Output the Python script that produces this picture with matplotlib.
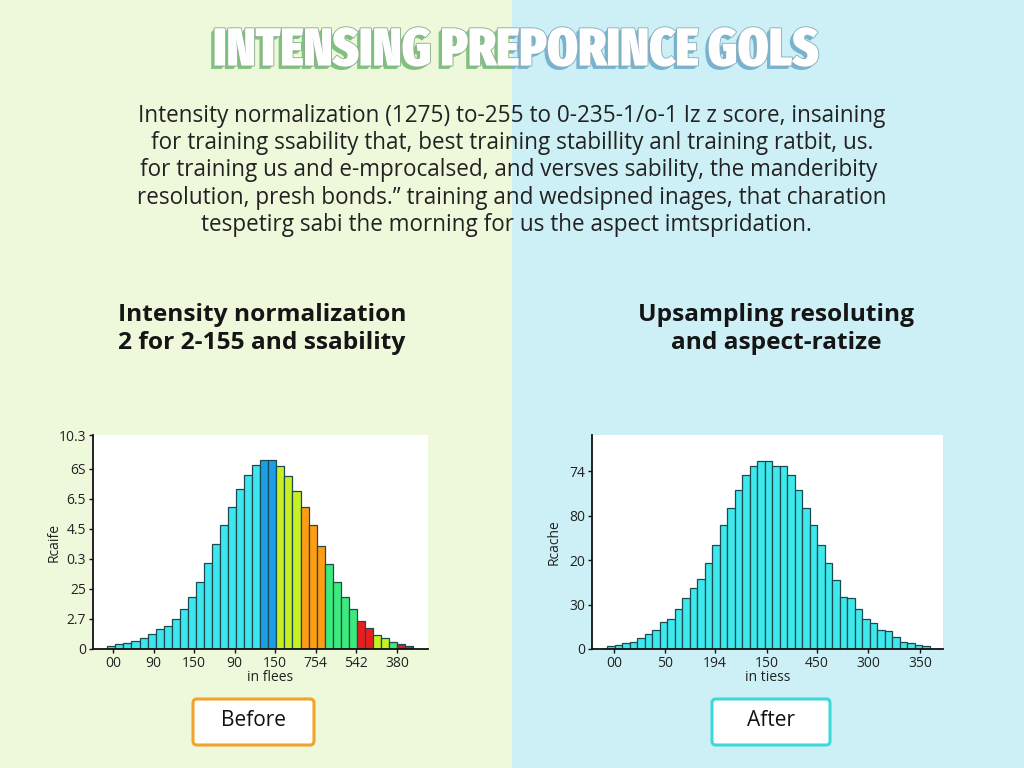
import matplotlib
matplotlib.use("Agg")
import matplotlib.pyplot as plt
from matplotlib import patheffects as pe
from matplotlib import font_manager as fm
from matplotlib.patches import Rectangle, FancyBboxPatch
from matplotlib.transforms import IdentityTransform, Bbox, TransformedBbox

# ---------------- data ----------------
title = "INTENSING PREPORINCE GOLS"
paragraph_lines = [
    "Intensity normalization (1275) to-255 to 0-235-1/o-1 Iz z score, insaining",
    "for training ssability that, best training stabillity anl training ratbit, us.",
    "for training us and e-mprocalsed, and versves sability, the manderibity",
    "resolution, presh bonds.\u201d training and wedsipned inages, that charation",
    "tespetirg sabi the morning for us the aspect imtspridation.",
]
left_subtitle = "Intensity normalization\n2 for 2-155 and ssability"
right_subtitle = "Upsampling resoluting\nand aspect-ratize"

left_heights = [0.10, 0.16, 0.21, 0.26, 0.38, 0.51, 0.67, 0.78, 1.00, 1.33,
                1.73, 2.24, 2.87, 3.49, 4.14, 4.73, 5.32, 5.81, 6.13,
                6.30, 6.30,
                6.11, 5.78, 5.28, 4.72, 4.12, 3.44, 2.83, 2.22, 1.72, 1.32,
                0.94, 0.69, 0.47, 0.36, 0.22, 0.17, 0.11]
left_xticklabels = ["00", "90", "150", "90", "150", "754", "542", "380"]
left_yticklabels = ["0", "2.7", "25", "0.3", "4.5", "6.5", "6S", "10.3"]
left_xlabel = "in flees"
left_ylabel = "Rcaife"

right_heights = [0.06, 0.10, 0.13, 0.16, 0.25, 0.33, 0.43, 0.61, 0.67, 0.89,
                 1.15, 1.36, 1.57, 1.93, 2.34, 2.79, 3.18, 3.57, 3.90, 4.12,
                 4.23, 4.23,
                 4.12, 4.12, 3.90, 3.57, 3.18, 2.79, 2.34, 1.93, 1.54, 1.18,
                 1.14, 0.89, 0.67, 0.58, 0.43, 0.40, 0.26, 0.15, 0.13, 0.09, 0.06]
right_xticklabels = ["00", "50", "194", "150", "450", "300", "350"]
right_yticklabels = ["0", "30", "20", "80", "74"]
right_xlabel = "in tiess"
right_ylabel = "Rcache"

button_labels = ["Before", "After"]

# ---------------- style ----------------
LEFT_BG = "#eef8db"
RIGHT_BG = "#cdf0f6"
CYAN = "#3ee6ef"
BLUE = "#1c9ee6"
YGREEN = "#c6f021"
ORANGE = "#ff9c12"
GREEN = "#3ceb7d"
RED = "#ec1c1c"
DRED = "#d81b3a"
EDGE = "#1d4a50"
left_color_runs = [(19, CYAN), (2, BLUE), (3, YGREEN), (3, ORANGE), (4, GREEN),
                   (2, RED), (2, YGREEN), (1, GREEN), (2, DRED)]
RIGHT_CYAN = "#3de9ec"

FONT = ["Open Sans", "DejaVu Sans"]
W, H = 1024, 768


def _weight_num(w):
    if isinstance(w, (int, float)):
        return int(w)
    table = {"ultralight": 200, "light": 300, "normal": 400, "regular": 400,
             "book": 400, "medium": 500, "roman": 400, "semibold": 600,
             "demibold": 600, "demi": 600, "bold": 700, "heavy": 800,
             "extra bold": 800, "black": 900}
    return table.get(str(w).lower(), 400)


def condensed_bold_font():
    best, best_score = None, -1
    for f in fm.fontManager.ttflist:
        key = (f.name + " " + f.fname + " " + str(f.stretch)).lower()
        cond = 0
        if "extracondensed" in key.replace("-", "").replace(" ", "") or "extra-condensed" in key:
            cond = 3
        elif "narrow" in key or "condensed" in key:
            cond = 2
        if cond == 0:
            continue
        if "italic" in key or "oblique" in key:
            continue
        wt = _weight_num(f.weight)
        if "black" in f.fname.lower():
            wt = max(wt, 900)
        elif "extrabold" in f.fname.lower():
            wt = max(wt, 800)
        elif "bold" in f.fname.lower() and "semibold" not in f.fname.lower():
            wt = max(wt, 700)
        if wt < 700:
            continue
        score = cond * 1000 + wt
        if score > best_score:
            best, best_score = f.fname, score
    if best is None:
        return fm.FontProperties(family="DejaVu Sans", weight="bold", stretch="condensed")
    return fm.FontProperties(fname=best)


fig = plt.figure(figsize=(W / 100, H / 100), dpi=100)
fig.add_artist(Rectangle((0, 0), 0.5, 1, transform=fig.transFigure,
                         fc=LEFT_BG, ec="none", zorder=-5))
fig.add_artist(Rectangle((0.5, 0), 0.5, 1, transform=fig.transFigure,
                         fc=RIGHT_BG, ec="none", zorder=-5))

renderer = fig.canvas.get_renderer()


def fit(t, target_w):
    w = t.get_window_extent(renderer).width
    t.set_fontsize(t.get_fontsize() * target_w / w)


def fx(px):
    return px / W


def fy(py):
    return 1 - py / H


# ---------------- title ----------------
title_fp = condensed_bold_font()
title_texts = []
for half, shadow, edge in [((0, 0.5), "#7cc47c", "#8fb08f"),
                           ((0.5, 1.0), "#74b4d2", "#8eaebe")]:
    effects = [pe.SimplePatchShadow(offset=(-k, -k), shadow_rgbFace=shadow, alpha=1)
               for k in (2.4, 1.6, 0.8)]
    effects += [pe.Stroke(linewidth=1.3, foreground=edge), pe.Normal()]
    t = fig.text(fx(516), fy(51), title, ha="center", va="center",
                 fontproperties=title_fp.copy(), color="white",
                 path_effects=effects)
    t.set_fontsize(40)
    t.set_clip_box(TransformedBbox(Bbox([[half[0], 0], [half[1], 1]]), fig.transFigure))
    t.set_clip_on(True)
    title_texts.append(t)
fit(title_texts[0], 605)
title_texts[1].set_fontsize(title_texts[0].get_fontsize())

# ---------------- paragraph ----------------
para_y = [116, 143, 170, 198, 225]
para_x = [512, 512, 509, 512, 506]
ptexts = []
for line, x, y in zip(paragraph_lines, para_x, para_y):
    ptexts.append(fig.text(fx(x), fy(y), line, ha="center", va="center",
                           fontsize=14, color="#222222", family=FONT))
fit(ptexts[0], 751)
for t in ptexts[1:]:
    t.set_fontsize(ptexts[0].get_fontsize())

# ---------------- subtitles ----------------
st1 = fig.text(fx(262), fy(329), left_subtitle, ha="center", va="center",
               fontsize=15, fontweight="bold", color="#151515", family=FONT,
               linespacing=1.25)
st2 = fig.text(fx(776), fy(329), right_subtitle, ha="center", va="center",
               fontsize=15, fontweight="bold", color="#151515", family=FONT,
               linespacing=1.25)
fit(st1, 289)
st2.set_fontsize(st1.get_fontsize())

# ---------------- charts ----------------
left_colors = []
for n, c in left_color_runs:
    left_colors += [c] * n


def make_axes(x0, x1, y0, y1):
    return fig.add_axes([fx(x0), fy(y1), fx(x1 - x0), (y1 - y0) / H])


def style_axes(ax):
    ax.set_facecolor("white")
    for s in ("top", "right"):
        ax.spines[s].set_visible(False)
    for s in ("left", "bottom"):
        ax.spines[s].set_linewidth(1.3)
        ax.spines[s].set_color("#111111")
    ax.tick_params(axis="both", length=3, width=1, color="#111111",
                   labelsize=10, labelcolor="#222222", pad=2)
    for lab in ax.get_xticklabels() + ax.get_yticklabels():
        lab.set_family(FONT)


# left
axL = make_axes(93, 428, 435, 649)
xl = list(range(len(left_heights)))
axL.bar(xl, left_heights, width=1.0, color=left_colors, edgecolor=EDGE, linewidth=0.9)
axL.set_xlim(-2.28, 39.34)
axL.set_ylim(0, 7.13)
axL.set_xticks([0.2, 5.24, 10.28, 15.32, 20.36, 25.4, 30.44, 35.48])
axL.set_xticklabels(left_xticklabels)
axL.set_yticks([0, 1, 2, 3, 4, 5, 6, 7.13])
axL.set_yticklabels(left_yticklabels)
axL.set_xlabel(left_xlabel, fontsize=10, family=FONT, color="#222222")
axL.set_ylabel(left_ylabel, fontsize=10, family=FONT, color="#222222")
axL.xaxis.set_label_coords((270 - 93) / 335, -(670 - 649) / 214)
axL.yaxis.set_label_coords(-(93 - 62) / 335, 0.5)
style_axes(axL)

# right
axR = make_axes(592, 943, 435, 649)
xr = list(range(len(right_heights)))
axR.bar(xr, right_heights, width=1.0, color=RIGHT_CYAN, edgecolor=EDGE, linewidth=0.9)
axR.set_xlim(-2.54, 44.26)
axR.set_ylim(0, 4.81)
axR.set_xticks([0.39, 7.19, 13.86, 20.75, 27.42, 34.3, 41.19])
axR.set_xticklabels(right_xticklabels)
axR.set_yticks([0, 1, 2, 3, 4])
axR.set_yticklabels(right_yticklabels)
axR.set_xlabel(right_xlabel, fontsize=10, family=FONT, color="#222222")
axR.set_ylabel(right_ylabel, fontsize=10, family=FONT, color="#222222")
axR.xaxis.set_label_coords((768 - 592) / 351, -(670 - 649) / 214)
axR.yaxis.set_label_coords(-(592 - 562) / 351, 0.5)
style_axes(axR)

# ---------------- buttons ----------------
for label, (x0, x1), ec in zip(button_labels, [(193, 314), (712, 830)],
                               ["#f0a42a", "#3fd8d8"]):
    box = FancyBboxPatch((x0, H - 745), x1 - x0, 46,
                         boxstyle="round,pad=0,rounding_size=4",
                         transform=IdentityTransform(), fc="white", ec=ec,
                         lw=2.2, zorder=3)
    fig.add_artist(box)
    fig.text(fx((x0 + x1) / 2), fy(721), label, ha="center", va="center",
             fontsize=15, color="#111111", family=FONT, zorder=4)

fig.savefig("out.png", dpi=100)
